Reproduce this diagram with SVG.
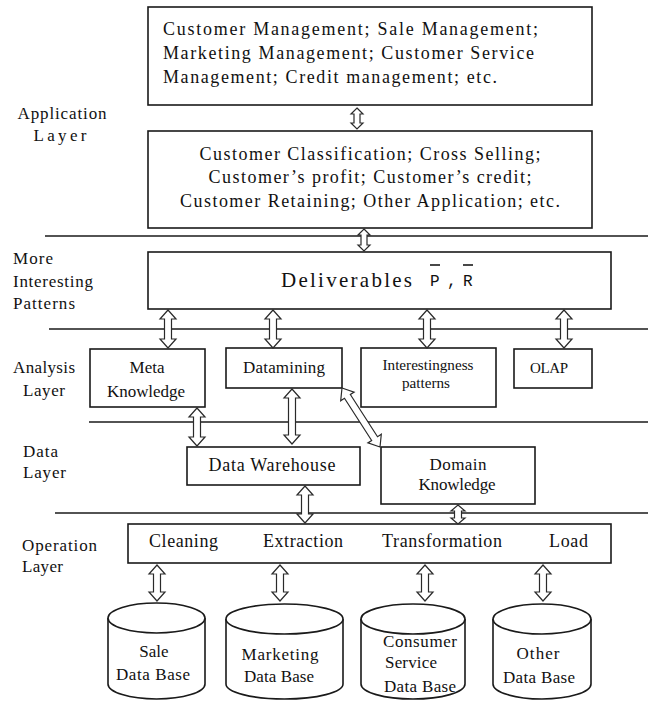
<svg xmlns="http://www.w3.org/2000/svg" width="653" height="701" viewBox="0 0 653 701">
<style>
.bg{fill:#ffffff}
.box{fill:#ffffff;stroke:#1a1a1a;stroke-width:1.6}
.ln{stroke:#1a1a1a;stroke-width:1.6;fill:none}
.ar{fill:#ffffff;stroke:#2a2a2a;stroke-width:1.2;stroke-linejoin:miter}
text{fill:#111111}
.c{text-anchor:middle}
</style>
<rect class="bg" x="0" y="0" width="653" height="701"/>

<g id="layer-lines">
<line class="ln" x1="45" y1="236" x2="648" y2="236"/>
<line class="ln" x1="49" y1="329" x2="648" y2="329"/>
<line class="ln" x1="89" y1="422" x2="648" y2="422"/>
<line class="ln" x1="55" y1="513" x2="648" y2="513"/>
</g>

<g font-family="Liberation Serif, Times New Roman, DejaVu Serif, serif" font-size="17">
<g id="labels">
<text class="c" x="62" y="119" textLength="89" lengthAdjust="spacing">Application</text>
<text class="c" x="60" y="141" textLength="53" lengthAdjust="spacing">Layer</text>
<text x="13" y="264" textLength="40" lengthAdjust="spacing">More</text>
<text x="13" y="287" textLength="80" lengthAdjust="spacing">Interesting</text>
<text x="13" y="309" textLength="62" lengthAdjust="spacing">Patterns</text>
<text x="13" y="373" textLength="62" lengthAdjust="spacing">Analysis</text>
<text x="23" y="396" textLength="42" lengthAdjust="spacing">Layer</text>
<text x="23" y="457" textLength="35" lengthAdjust="spacing">Data</text>
<text x="23" y="478" textLength="43" lengthAdjust="spacing">Layer</text>
<text x="22" y="551" textLength="75" lengthAdjust="spacing">Operation</text>
<text x="22" y="572" textLength="41" lengthAdjust="spacing">Layer</text>
</g>

<g id="node-management" font-size="18">
<rect class="box" x="148" y="7" width="444" height="98"/>
<text x="163" y="35" textLength="375" lengthAdjust="spacing">Customer Management; Sale Management;</text>
<text x="163" y="59" textLength="371" lengthAdjust="spacing">Marketing Management; Customer Service</text>
<text x="163" y="83" textLength="334" lengthAdjust="spacing">Management; Credit management; etc.</text>
</g>

<g id="node-applications" font-size="18">
<rect class="box" x="148" y="131" width="444" height="97"/>
<text class="c" x="370" y="160" textLength="341" lengthAdjust="spacing">Customer Classification; Cross Selling;</text>
<text class="c" x="370" y="183" textLength="323" lengthAdjust="spacing">Customer’s profit; Customer’s credit;</text>
<text class="c" x="370" y="207" textLength="380" lengthAdjust="spacing">Customer Retaining; Other Application; etc.</text>
</g>

<g id="node-deliverables">
<rect class="box" x="148" y="252" width="463" height="57"/>
<text x="281" y="287" font-size="21" textLength="131" lengthAdjust="spacing">Deliverables</text>
<text x="430" y="286" font-size="16" font-family="Liberation Mono, Courier New, DejaVu Sans Mono, monospace">P</text>
<text x="447" y="286" font-size="16" font-family="Liberation Mono, Courier New, DejaVu Sans Mono, monospace">,</text>
<text x="463" y="286" font-size="16" font-family="Liberation Mono, Courier New, DejaVu Sans Mono, monospace">R</text>
<line class="ln" x1="430" y1="265" x2="440" y2="265" stroke-width="1.4"/>
<line class="ln" x1="463" y1="265" x2="473" y2="265" stroke-width="1.4"/>
</g>

<g id="node-meta-knowledge">
<rect class="box" x="90" y="349" width="115" height="58"/>
<text class="c" x="147" y="373">Meta</text>
<text class="c" x="146" y="397" textLength="78" lengthAdjust="spacing">Knowledge</text>
</g>

<g id="node-datamining">
<rect class="box" x="226" y="348" width="116" height="40"/>
<text class="c" x="284" y="373" textLength="82" lengthAdjust="spacing">Datamining</text>
</g>

<g id="node-interestingness" font-size="15">
<rect class="box" x="361" y="348" width="135" height="59"/>
<text class="c" x="428" y="370" textLength="91" lengthAdjust="spacingAndGlyphs">Interestingness</text>
<text class="c" x="426" y="388" textLength="48" lengthAdjust="spacingAndGlyphs">patterns</text>
</g>

<g id="node-olap" font-size="15">
<rect class="box" x="514" y="349" width="78" height="39"/>
<text class="c" x="549" y="373" textLength="38" lengthAdjust="spacing">OLAP</text>
</g>

<g id="node-data-warehouse" font-size="18">
<rect class="box" x="187" y="447" width="173" height="38"/>
<text class="c" x="272" y="471" textLength="127" lengthAdjust="spacing">Data Warehouse</text>
</g>

<g id="node-domain-knowledge">
<rect class="box" x="381" y="447" width="154" height="57"/>
<text class="c" x="458" y="470" textLength="57" lengthAdjust="spacing">Domain</text>
<text class="c" x="457" y="490" textLength="77" lengthAdjust="spacing">Knowledge</text>
</g>

<g id="node-operations" font-size="18">
<rect class="box" x="128" y="524" width="483" height="39"/>
<text x="149" y="547" textLength="69" lengthAdjust="spacing">Cleaning</text>
<text x="263" y="547" textLength="80" lengthAdjust="spacing">Extraction</text>
<text x="382" y="547" textLength="120" lengthAdjust="spacing">Transformation</text>
<text x="549" y="547" textLength="39" lengthAdjust="spacing">Load</text>
</g>

<g id="node-sale-db">
<path class="box" d="M108,618 L108,684 A48.5,15 0 0,0 205,684 L205,618"/>
<ellipse class="box" cx="156.5" cy="618" rx="48.5" ry="15"/>
<text class="c" x="154" y="657">Sale</text>
<text class="c" x="153" y="680" textLength="74" lengthAdjust="spacing">Data Base</text>
</g>

<g id="node-marketing-db">
<path class="box" d="M226,619 L226,684 A58.5,15 0 0,0 343,684 L343,619"/>
<ellipse class="box" cx="284.5" cy="619" rx="58.5" ry="15"/>
<text class="c" x="280" y="660" textLength="77" lengthAdjust="spacing">Marketing</text>
<text class="c" x="279" y="682" textLength="70" lengthAdjust="spacing">Data Base</text>
</g>

<g id="node-consumer-db">
<path class="box" d="M361,619 L361,684 A52,15 0 0,0 465,684 L465,619"/>
<ellipse class="box" cx="413" cy="619" rx="52" ry="15"/>
<text x="383" y="647" textLength="74" lengthAdjust="spacing">Consumer</text>
<text x="385" y="668" textLength="52" lengthAdjust="spacing">Service</text>
<text x="384" y="692" textLength="72" lengthAdjust="spacing">Data Base</text>
</g>

<g id="node-other-db">
<path class="box" d="M493,619 L493,684 A49,15 0 0,0 591,684 L591,619"/>
<ellipse class="box" cx="542" cy="619" rx="49" ry="15"/>
<text class="c" x="538" y="659" textLength="43" lengthAdjust="spacing">Other</text>
<text class="c" x="539" y="683" textLength="72" lengthAdjust="spacing">Data Base</text>
</g>
</g>

<g id="connectors">
<polygon class="ar" points="357,108 363,114 360,114 360,123 363,123 357,129 351,123 354,123 354,114 351,114"/>
<polygon class="ar" points="364,229 370,235 367,235 367,245 370,245 364,251 358,245 361,245 361,235 358,235"/>
<polygon class="ar" points="168,310 176,319 171.5,319 171.5,339 176,339 168,348 160,339 164.5,339 164.5,319 160,319"/>
<polygon class="ar" points="273,310 281,319 276.5,319 276.5,339 281,339 273,348 265,339 269.5,339 269.5,319 265,319"/>
<polygon class="ar" points="427,310 435,319 430.5,319 430.5,339 435,339 427,348 419,339 423.5,339 423.5,319 419,319"/>
<polygon class="ar" points="564,310 572,319 567.5,319 567.5,339 572,339 564,348 556,339 560.5,339 560.5,319 556,319"/>
<polygon class="ar" points="197,408 205,417 200.5,417 200.5,437 205,437 197,446 189,437 193.5,437 193.5,417 189,417"/>
<polygon class="ar" points="292,389 300,398 295.5,398 295.5,435 300,435 292,444 284,435 288.5,435 288.5,398 284,398"/>
<polygon class="ar" points="342,388 340.69,400.73 344.47,398.29 371.65,440.49 367.87,442.93 380,447 381.31,434.27 377.53,436.71 350.35,394.51 354.13,392.07"/>
<polygon class="ar" points="305,486 313,495 308.5,495 308.5,514 313,514 305,523 297,514 301.5,514 301.5,495 297,495"/>
<polygon class="ar" points="458,505 465,511 461.5,511 461.5,518 465,518 458,524 451,518 454.5,518 454.5,511 451,511"/>
<polygon class="ar" points="157,565 165,574 160.5,574 160.5,592 165,592 157,601 149,592 153.5,592 153.5,574 149,574"/>
<polygon class="ar" points="280,565 288,574 283.5,574 283.5,592 288,592 280,601 272,592 276.5,592 276.5,574 272,574"/>
<polygon class="ar" points="425,565 433,574 428.5,574 428.5,592 433,592 425,601 417,592 421.5,592 421.5,574 417,574"/>
<polygon class="ar" points="543,565 551,574 546.5,574 546.5,592 551,592 543,601 535,592 539.5,592 539.5,574 535,574"/>
</g>
</svg>
